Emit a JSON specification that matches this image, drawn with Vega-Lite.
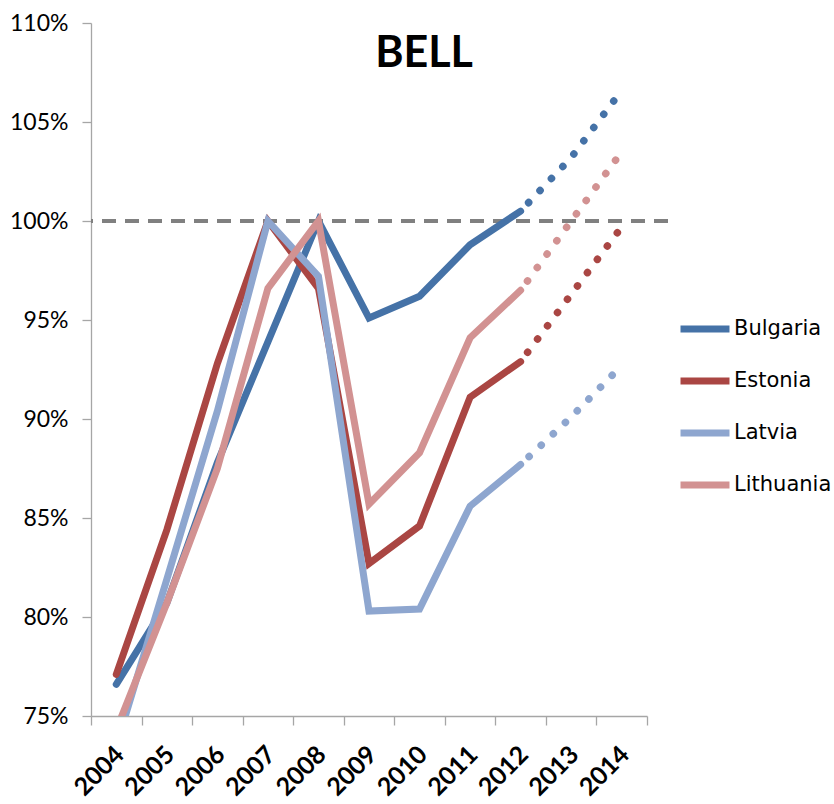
{
  "$schema": "https://vega.github.io/schema/vega-lite/v6.json",
  "width": 556,
  "height": 693,
  "autosize": {"type": "none"},
  "padding": {"left": 91, "top": 23, "right": 187, "bottom": 88},
  "background": "white",
  "config": {"view": {"stroke": null}, "font": "Lato"},
  "title": {
    "text": "BELL",
    "font": "Lato",
    "fontSize": 43,
    "fontWeight": "bold",
    "color": "black",
    "anchor": "middle",
    "baseline": "alphabetic",
    "offset": 0,
    "dx": 55,
    "dy": 98
  },
  "data": {
    "values": [
      {"country": "Bulgaria", "year": 2004, "value": 76.6},
      {"country": "Bulgaria", "year": 2005, "value": 80.7},
      {"country": "Bulgaria", "year": 2006, "value": 87.8},
      {"country": "Bulgaria", "year": 2007, "value": 93.9},
      {"country": "Bulgaria", "year": 2008, "value": 100.0},
      {"country": "Bulgaria", "year": 2009, "value": 95.1},
      {"country": "Bulgaria", "year": 2010, "value": 96.2},
      {"country": "Bulgaria", "year": 2011, "value": 98.8},
      {"country": "Bulgaria", "year": 2012, "value": 100.5},
      {"country": "Bulgaria", "year": 2013, "value": 103.2},
      {"country": "Bulgaria", "year": 2014, "value": 106.6},
      {"country": "Estonia", "year": 2004, "value": 77.1},
      {"country": "Estonia", "year": 2005, "value": 84.4},
      {"country": "Estonia", "year": 2006, "value": 92.8},
      {"country": "Estonia", "year": 2007, "value": 100.0},
      {"country": "Estonia", "year": 2008, "value": 96.6},
      {"country": "Estonia", "year": 2009, "value": 82.7},
      {"country": "Estonia", "year": 2010, "value": 84.6},
      {"country": "Estonia", "year": 2011, "value": 91.1},
      {"country": "Estonia", "year": 2012, "value": 92.9},
      {"country": "Estonia", "year": 2013, "value": 96.3},
      {"country": "Estonia", "year": 2014, "value": 99.7},
      {"country": "Latvia", "year": 2004, "value": 73.5},
      {"country": "Latvia", "year": 2005, "value": 81.9},
      {"country": "Latvia", "year": 2006, "value": 90.4},
      {"country": "Latvia", "year": 2007, "value": 100.0},
      {"country": "Latvia", "year": 2008, "value": 97.2},
      {"country": "Latvia", "year": 2009, "value": 80.3},
      {"country": "Latvia", "year": 2010, "value": 80.4},
      {"country": "Latvia", "year": 2011, "value": 85.6},
      {"country": "Latvia", "year": 2012, "value": 87.7},
      {"country": "Latvia", "year": 2013, "value": 90.1},
      {"country": "Latvia", "year": 2014, "value": 92.7},
      {"country": "Lithuania", "year": 2004, "value": 74.3},
      {"country": "Lithuania", "year": 2005, "value": 80.7},
      {"country": "Lithuania", "year": 2006, "value": 87.5},
      {"country": "Lithuania", "year": 2007, "value": 96.6},
      {"country": "Lithuania", "year": 2008, "value": 100.0},
      {"country": "Lithuania", "year": 2009, "value": 85.7},
      {"country": "Lithuania", "year": 2010, "value": 88.3},
      {"country": "Lithuania", "year": 2011, "value": 94.1},
      {"country": "Lithuania", "year": 2012, "value": 96.5},
      {"country": "Lithuania", "year": 2013, "value": 100.0},
      {"country": "Lithuania", "year": 2014, "value": 103.5}
    ]
  },
  "encoding": {
    "x": {
      "field": "year",
      "type": "ordinal",
      "scale": {"type": "band", "paddingInner": 0, "paddingOuter": 0},
      "axis": {
        "title": null,
        "labelAngle": -45,
        "labelAlign": "right",
        "labelBaseline": "middle",
        "labelFont": "Lato",
        "labelFontWeight": "bold",
        "labelFontSize": 25,
        "labelColor": "black",
        "labelPadding": 25,
        "labelOffset": 3,
        "tickBand": "extent",
        "tickSize": 9,
        "tickColor": "#A6A6A6",
        "domainColor": "#A6A6A6",
        "domainWidth": 1.3,
        "tickWidth": 1.3,
        "grid": false
      }
    },
    "y": {
      "field": "value",
      "type": "quantitative",
      "scale": {"domain": [75, 110], "nice": false, "zero": false},
      "axis": {
        "title": null,
        "values": [75, 80, 85, 90, 95, 100, 105, 110],
        "labelExpr": "datum.value + '%'",
        "labelFont": "Lato",
        "labelFontSize": 23,
        "labelColor": "black",
        "labelPadding": 14,
        "tickSize": 9,
        "tickColor": "#A6A6A6",
        "domainColor": "#A6A6A6",
        "domainWidth": 1.3,
        "tickWidth": 1.3,
        "grid": false
      }
    },
    "color": {
      "field": "country",
      "type": "nominal",
      "scale": {
        "domain": ["Bulgaria", "Estonia", "Latvia", "Lithuania"],
        "range": ["#4572A7", "#AA4643", "#8EA6CF", "#D29292"]
      },
      "legend": {
        "title": null,
        "orient": "none",
        "legendX": 586,
        "legendY": 278,
        "symbolType": "stroke",
        "symbolSize": 2400,
        "symbolStrokeWidth": 7,
        "labelFont": "DejaVu Sans",
        "labelFontSize": 21,
        "labelColor": "black",
        "labelOffset": 1,
        "padding": 0,
        "rowPadding": 10
      }
    }
  },
  "layer": [
    {
      "mark": {"type": "rule", "color": "#808080", "strokeWidth": 4, "strokeDash": [14, 9], "xOffset": 21, "x2Offset": -9},
      "encoding": {"y": {"datum": 100}, "x": null, "color": null}
    },
    {
      "transform": [{"filter": "datum.year <= 2012"}],
      "mark": {"type": "line", "strokeWidth": 7, "clip": true, "strokeCap": "round"}
    },
    {
      "transform": [{"filter": "datum.year >= 2012"}],
      "mark": {"type": "line", "strokeWidth": 7.5, "clip": true, "strokeCap": "round", "strokeDash": [0.1, 16.5], "strokeDashOffset": 5}
    }
  ]
}
